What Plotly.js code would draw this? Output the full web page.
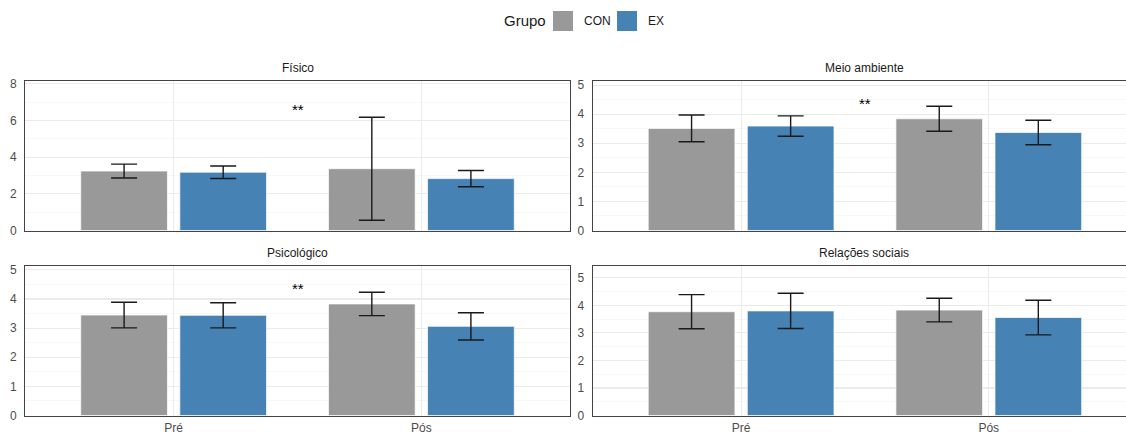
<!DOCTYPE html>
<html>
<head>
<meta charset="utf-8">
<script src="https://cdn.plot.ly/plotly-3.0.1.min.js"></script>
<style>html,body{margin:0;padding:0;background:#fff;}#chart{width:1126px;height:434px;}</style>
</head>
<body>
<div id="chart"></div>
<script>
// ---- data ----
const panels = ['Físico', 'Meio ambiente', 'Psicológico', 'Relações sociais'];
const times = ['Pré', 'Pós'];
const groups = ['CON', 'EX'];
const conMean = [[3.24, 3.37], [3.51, 3.84], [3.45, 3.83], [3.77, 3.83]];
const conErr  = [[0.38, 2.81], [0.46, 0.43], [0.44, 0.40], [0.62, 0.43]];
const exMean  = [[3.18, 2.83], [3.59, 3.37], [3.44, 3.06], [3.80, 3.56]];
const exErr   = [[0.34, 0.44], [0.35, 0.42], [0.43, 0.47], [0.64, 0.63]];
const sigLabel = ['**', '**', '**', ''];
const sigY = [6.6, 4.38, 4.35, null];
const yMax = [8.17, 5.15, 5.15, 5.45];
const yStep = [2, 1, 1, 1];

// ---- styling ----
const W = 1126, H = 434;
const colors = ['#999999', '#4682B4'];
const font = 'Liberation Sans, Arial, Helvetica, sans-serif';
const px = v => v / W, py = v => 1 - v / H;
const xDom = [[px(25), px(570)], [px(592.5), 1], [px(25), px(570)], [px(592.5), 1]];
const yDom = [[py(230.5), py(80.7)], [py(230.5), py(80.7)], [py(415.5), py(265.5)], [py(415.5), py(265.5)]];
const xRange = [[-0.6, 1.6], [-0.6, 1.554], [-0.6, 1.6], [-0.6, 1.554]];
const titleX = [297.5, 864, 297.5, 864];
const titleY = [68, 68, 253, 253];

const xIdx = t => t.map((_, i) => i);
const traces = [];
const layout = {
  width: W, height: H,
  margin: {l: 0, r: 0, t: 0, b: 0},
  paper_bgcolor: '#fff', plot_bgcolor: '#fff',
  showlegend: false,
  font: {family: font, color: '#4d4d4d'},
  annotations: [], shapes: []
};

panels.forEach((p, k) => {
  const sfx = k === 0 ? '' : String(k + 1);
  const xa = 'x' + sfx, ya = 'y' + sfx;
  [conMean, exMean].forEach((means, g) => {
    const errs = g === 0 ? conErr : exErr;
    traces.push({
      type: 'bar', x: xIdx(times), y: means[k], name: groups[g],
      xaxis: xa, yaxis: ya,
      width: 0.35, offset: g === 0 ? -0.375 : 0.025,
      marker: {color: colors[g], line: {color: 'rgba(255,255,255,0.7)', width: 1}},
      error_y: {type: 'data', array: errs[k], visible: true, color: '#1a1a1a', thickness: 1.4, width: 13},
      hoverinfo: 'skip'
    });
  });
  layout['xaxis' + sfx] = {
    domain: xDom[k], range: xRange[k], anchor: ya,
    tickvals: xIdx(times), ticktext: k >= 2 ? times : ['', ''],
    showticklabels: k >= 2,
    ticks: 'outside', ticklen: 1, tickcolor: 'rgba(0,0,0,0)',
    tickfont: {size: 12, color: '#4d4d4d', family: font},
    showgrid: true, gridcolor: '#ebebeb', gridwidth: 1.1,
    zeroline: false, showline: true, mirror: true, linecolor: '#444', linewidth: 1,
    fixedrange: true
  };
  layout['yaxis' + sfx] = {
    domain: yDom[k], range: [0, yMax[k]], anchor: xa,
    dtick: yStep[k], tick0: 0,
    ticks: 'outside', ticklen: 5, tickcolor: 'rgba(0,0,0,0)',
    tickfont: {size: 12, color: '#4d4d4d', family: font},
    showgrid: true, gridcolor: '#ebebeb', gridwidth: 1.1,
    minor: {dtick: yStep[k] / 2, showgrid: true, gridcolor: '#f3f3f3', gridwidth: 0.6},
    zeroline: false, showline: true, mirror: (k % 2 === 0), linecolor: '#444', linewidth: 1,
    fixedrange: true
  };
  layout.annotations.push({
    xref: 'paper', yref: 'paper', x: px(titleX[k]), y: py(titleY[k]),
    xanchor: 'center', yanchor: 'middle', showarrow: false,
    text: p, font: {size: 12, color: '#1a1a1a', family: font}
  });
  if (sigLabel[k]) {
    layout.annotations.push({
      xref: xa, yref: ya, x: 0.5, y: sigY[k], xanchor: 'center', yanchor: 'middle',
      showarrow: false, text: sigLabel[k], font: {size: 15, color: '#000', family: font}
    });
  }
});

// legend (drawn manually to match the reference)
layout.annotations.push({xref: 'paper', yref: 'paper', x: px(502), y: py(21), xanchor: 'left', yanchor: 'middle',
  showarrow: false, text: 'Grupo', font: {size: 15, color: '#1a1a1a', family: font}});
const legX = [553, 617], legTxt = [582, 646];
groups.forEach((g, i) => {
  layout.shapes.push({type: 'rect', xref: 'paper', yref: 'paper', x0: px(legX[i]), x1: px(legX[i] + 20),
    y0: py(31), y1: py(11), fillcolor: colors[i], line: {width: 0}});
  layout.annotations.push({xref: 'paper', yref: 'paper', x: px(legTxt[i]), y: py(21), xanchor: 'left', yanchor: 'middle',
    showarrow: false, text: g, font: {size: 12, color: '#1a1a1a', family: font}});
});

Plotly.newPlot('chart', traces, layout, {staticPlot: true, displayModeBar: false});
</script>
</body>
</html>
